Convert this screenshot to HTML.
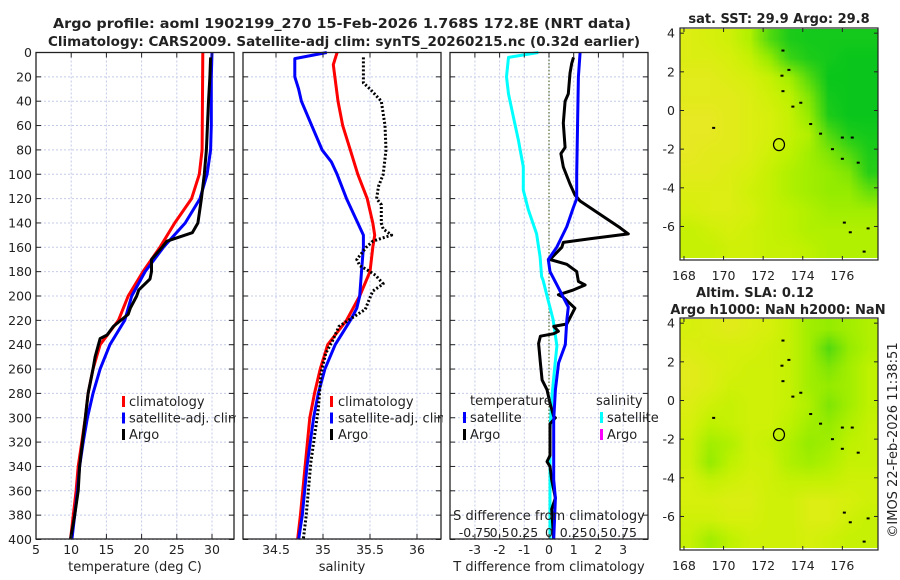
<!DOCTYPE html>
<html><head><meta charset="utf-8">
<style>
html,body{margin:0;padding:0;background:#fff;}
#wrap{position:relative;width:900px;height:580px;overflow:hidden;font-family:"DejaVu Sans","Liberation Sans",sans-serif;}
canvas{position:absolute;}
svg{position:absolute;left:0;top:0;}
text{font-family:"DejaVu Sans","Liberation Sans",sans-serif;fill:#222;}
</style></head>
<body>
<div id="wrap">
<canvas id="sstmap" width="198" height="229" style="left:680px;top:29px"></canvas>
<canvas id="slamap" width="198" height="229" style="left:680px;top:319px"></canvas>
<svg id="fig" width="900" height="580" xmlns="http://www.w3.org/2000/svg"></svg>
</div>
<script>
// ---------- data ----------
const depthTicks = [0,20,40,60,80,100,120,140,160,180,200,220,240,260,280,300,320,340,360,380,400];
const tTicks = [5,10,15,20,25,30];
const sTicks = [34.5,35,35.5,36];
const dTTicks = [-3,-2,-1,0,1,2,3];
const dSTicks = [-0.75,-0.5,-0.25,0,0.25,0.5,0.75];
const dSTickLabels = ["-0.75","0.5","0.25","0","0.25","0.5","0.75"];
const lonTicks = [168,170,172,174,176];
const latTicks = [4,2,0,-2,-4,-6];

const climTdepth = [0,80,100,120,140,160,180,200,220,240,260,280,300,320,340,360,380,400];
const climT =      [28.7,28.6,28.2,27.1,24.7,22.6,20.2,18.1,16.7,14.1,13.1,12.4,12.0,11.5,11.0,10.7,10.3,9.9];
const satTdepth = [0,20,60,80,100,120,140,160,170,180,200,220,240,260,280,300,320,340,360,380,400];
const satT =      [30.0,29.9,29.9,29.8,29.3,28.3,26.2,23.1,21.8,20.5,18.6,17.6,15.5,14.1,13.1,12.3,11.7,11.2,10.9,10.5,10.1];
const argoTdepth = [4,20,40,80,100,120,140,148,155,160,170,180,186,195,200,210,215,225,232,235,250,260,280,300,340,360,380,400];
const argoT =      [29.8,29.7,29.5,29.2,28.9,28.5,28.0,27.2,23.6,22.9,21.4,21.4,21.2,19.6,19.3,18.4,18.1,16.0,15.1,14.1,13.4,13.1,12.4,12.0,11.2,11.0,10.5,9.9];

const climSdepth = [0,10,40,60,80,100,120,140,150,160,180,200,210,220,230,240,260,280,300,340,380,400];
const climS =      [35.15,35.11,35.16,35.21,35.29,35.37,35.47,35.53,35.55,35.53,35.50,35.39,35.32,35.25,35.15,35.05,34.97,34.91,34.86,34.81,34.76,34.73];
const satSdepth = [0,5,20,30,40,60,80,90,100,120,140,150,160,180,200,210,220,240,260,280,300,340,380,400];
const satS =      [35.04,34.70,34.70,34.74,34.77,34.88,34.99,35.09,35.15,35.25,35.37,35.43,35.43,35.41,35.39,35.36,35.29,35.13,35.02,34.95,34.90,34.83,34.78,34.74];
const argoSdepth = [4,25,30,40,60,80,100,110,120,125,140,145,150,155,160,165,170,175,180,183,190,196,203,211,218,225,237,247,263,293,337,381,400];
const argoS =      [35.43,35.43,35.50,35.62,35.66,35.67,35.64,35.59,35.57,35.62,35.62,35.64,35.73,35.53,35.46,35.41,35.36,35.39,35.50,35.56,35.64,35.53,35.49,35.45,35.31,35.17,35.10,35.03,34.98,34.95,34.87,34.82,34.79];

const dTsatDepth = [0,20,100,120,127,143,160,170,180,196,209,220,240,255,277,302,351,366,400];
const dTsat =      [1.26,1.19,1.12,1.12,0.99,0.72,0.31,-0.03,0.04,0.45,0.78,0.72,0.66,0.39,0.26,0.19,0.19,0.26,0.19];
const dTargoDepth = [4,9,17,34,40,58,78,83,94,108,117,122,133,144,149,153,156,160,170,174,180,188,191,195,199,201,210,223,225,229,231,233,239,255,269,277,288,299,300,305,331,336,340,351,366,375,400];
const dTargo =      [0.99,0.92,0.85,0.78,0.65,0.58,0.65,0.48,0.58,0.85,1.05,1.26,2.07,2.88,3.21,1.66,0.58,0.52,0.04,0.72,1.12,1.19,1.46,0.99,0.38,0.58,1.05,0.72,0.19,0.38,0.19,-0.35,-0.42,-0.35,-0.28,-0.08,0.04,0.19,0.26,0.04,0.04,-0.08,0.04,0.11,0.26,0.11,0.19];
const dSsatDepth = [0,4,20,34,53,72,94,113,129,149,168,184,187,203,219,241,257,282,310,400];
const dSsat =      [-0.108,-0.41,-0.43,-0.41,-0.36,-0.31,-0.26,-0.26,-0.21,-0.125,-0.09,-0.075,-0.06,-0.01,0.04,0.08,0.06,0.03,0.01,0.01];

const sstGrid = [
 [0.85,0.8,0.75,0.6,0.35,0.15,0.1,0.1,0.1,0.1],
 [0.85,0.85,0.8,0.7,0.5,0.3,0.15,0.1,0.05,0.05],
 [0.9,0.9,0.85,0.8,0.7,0.55,0.35,0.05,0.05,0.05],
 [0.9,0.9,0.9,0.85,0.75,0.65,0.45,0.1,0.05,0.05],
 [0.95,0.95,0.9,0.85,0.8,0.7,0.5,0.15,0.05,0.05],
 [0.95,0.95,0.9,0.85,0.8,0.7,0.6,0.35,0.15,0.1],
 [0.95,0.9,0.9,0.85,0.75,0.65,0.55,0.45,0.35,0.15],
 [0.9,0.9,0.85,0.8,0.7,0.6,0.55,0.5,0.45,0.2],
 [0.85,0.85,0.85,0.75,0.7,0.6,0.55,0.5,0.5,0.4],
 [0.8,0.85,0.85,0.8,0.7,0.65,0.6,0.55,0.55,0.55],
 [0.7,0.75,0.8,0.75,0.7,0.65,0.6,0.6,0.6,0.6],
 [0.7,0.7,0.75,0.75,0.7,0.7,0.65,0.6,0.6,0.6]];
const slaGrid = [
 [0.8,0.85,0.9,0.85,0.8,0.7,0.55,0.5,0.55,0.6],
 [0.85,0.8,0.8,0.8,0.75,0.7,0.55,0.35,0.5,0.6],
 [0.9,0.85,0.8,0.75,0.75,0.7,0.55,0.45,0.55,0.65],
 [0.9,0.85,0.75,0.75,0.75,0.7,0.55,0.5,0.55,0.65],
 [0.85,0.75,0.7,0.75,0.75,0.7,0.6,0.45,0.55,0.65],
 [0.8,0.65,0.7,0.75,0.75,0.65,0.55,0.5,0.6,0.7],
 [0.75,0.55,0.6,0.75,0.7,0.6,0.5,0.55,0.65,0.7],
 [0.75,0.5,0.65,0.75,0.75,0.6,0.55,0.6,0.7,0.7],
 [0.8,0.7,0.75,0.8,0.75,0.7,0.7,0.7,0.75,0.75],
 [0.8,0.8,0.85,0.85,0.75,0.75,0.85,0.85,0.8,0.75],
 [0.75,0.75,0.8,0.8,0.75,0.75,0.85,0.85,0.75,0.7],
 [0.7,0.55,0.65,0.75,0.75,0.75,0.8,0.75,0.7,0.7]];
const profileLon = [172.8];
const profileLat = [-1.768];

// ---------- scales ----------
const Y0 = 52.5, YK = 1.2175;
const yD = d => Y0 + d*YK;
const xT = t => 36 + (t-5)*7.04;
const xS = s => 276 + (s-34.5)*94;
const xDT = d => 549 + d*24.7;
const xDS = s => 549 + s*98.8;
const xLon = lon => 680 + (lon-167.8)*19.8;
const yLat1 = lat => 29.3 + (4.2-lat)*19.33;
const yLat2 = lat => 319.3 + (4.2-lat)*19.33;

const NS = "http://www.w3.org/2000/svg";
const svg = document.getElementById('fig');
function mk(tag, name, inter, attrs, parent){
  const el = document.createElementNS(NS, tag);
  
  
  for (const k in attrs) el.setAttribute(k, attrs[k]);
  (parent||svg).appendChild(el);
  return el;
}
function txt(name, x, y, s, size, anchor, extra){
  const a = Object.assign({x:x, y:y, 'font-size':size, 'text-anchor':anchor||'middle'}, extra||{});
  const t = mk('text', name, 'false', a);
  t.textContent = s;
  return t;
}
function line(name, xs, ys, color, dash, w){
  let d = '';
  for (let i=0;i<xs.length;i++) d += (i?'L':'M') + xs[i].toFixed(1) + ' ' + ys[i].toFixed(1);
  const a = {d:d, fill:'none', stroke:color, 'stroke-width':w||3, 'stroke-linejoin':'round'};
  if (dash) a['stroke-dasharray'] = dash;
  return mk('path', name, 'false', a);
}

// ---------- titles ----------
txt('main-title-line1', 342, 28, 'Argo profile: aoml 1902199_270 15-Feb-2026 1.768S 172.8E (NRT data)', 13, 'middle', {'font-weight':'bold', textLength:578, lengthAdjust:'spacingAndGlyphs'});
txt('main-title-line2', 344, 46, 'Climatology: CARS2009. Satellite-adj clim: synTS_20260215.nc (0.32d earlier)', 13, 'middle', {'font-weight':'bold', textLength:592, lengthAdjust:'spacingAndGlyphs'});

// ---------- panels ----------
const panels = [
  {name:'temperature', x0:36, x1:234, gx:tTicks.map(xT)},
  {name:'salinity', x0:243, x1:441, gx:sTicks.map(xS)},
  {name:'difference', x0:450, x1:648, gx:dTTicks.map(xDT)}
];
const yTop = 52.5, yBot = 539;
panels.forEach((p, pi) => {
  mk('rect', p.name+'-panel-background', 'false', {x:p.x0, y:yTop, width:p.x1-p.x0, height:yBot-yTop, fill:'#fff'});
  depthTicks.forEach(d => {
    mk('line', p.name+'-hgrid', 'false', {x1:p.x0, x2:p.x1, y1:yD(d), y2:yD(d), stroke:'#c4cbe8', 'stroke-width':1, 'stroke-dasharray':'2,2'});
  });
  p.gx.forEach(x => {
    mk('line', p.name+'-vgrid', 'false', {x1:x, x2:x, y1:yTop, y2:yBot, stroke:'#c4cbe8', 'stroke-width':1, 'stroke-dasharray':'2,2'});
  });
});

// temperature panel
line('climatology-temperature-line', climT.map(xT), climTdepth.map(yD), '#ff0000');
line('satellite-temperature-line', satT.map(xT), satTdepth.map(yD), '#0000ff');
line('argo-temperature-line', argoT.map(xT), argoTdepth.map(yD), '#000000');
[['#ff0000','climatology'],['#0000ff','satellite-adj. clim'],['#000000','Argo']].forEach((e,i)=>{
  mk('rect','temp-legend-swatch','false',{x:122, y:396+i*16.5, width:3, height:11, fill:e[0]});
  txt('temp-legend-entry', 129, 406+i*16.5, e[1], 13, 'start');
});

// salinity panel
mk('rect', 'salinity-panel-cover', 'false', {x:236, y:yTop, width:205, height:yBot-yTop, fill:'#fff'});
depthTicks.forEach(d => mk('line','salinity-hgrid','false',{x1:243,x2:441,y1:yD(d),y2:yD(d),stroke:'#c4cbe8','stroke-width':1,'stroke-dasharray':'2,2'}));
sTicks.forEach(s => mk('line','salinity-vgrid','false',{x1:xS(s),x2:xS(s),y1:yTop,y2:yBot,stroke:'#c4cbe8','stroke-width':1,'stroke-dasharray':'2,2'}));
line('climatology-salinity-line', climS.map(xS), climSdepth.map(yD), '#ff0000');
line('satellite-salinity-line', satS.map(xS), satSdepth.map(yD), '#0000ff');
line('argo-salinity-line', argoS.map(xS), argoSdepth.map(yD), '#000000', '2,2');
[['#ff0000','climatology'],['#0000ff','satellite-adj. clim'],['#000000','Argo']].forEach((e,i)=>{
  mk('rect','sal-legend-swatch','false',{x:330, y:396+i*16.5, width:3, height:11, fill:e[0]});
  txt('sal-legend-entry', 338, 406+i*16.5, e[1], 13, 'start');
});

// difference panel
mk('rect', 'difference-panel-cover', 'false', {x:443, y:yTop, width:205, height:yBot-yTop, fill:'#fff'});
depthTicks.forEach(d => mk('line','difference-hgrid','false',{x1:450,x2:648,y1:yD(d),y2:yD(d),stroke:'#c4cbe8','stroke-width':1,'stroke-dasharray':'2,2'}));
dTTicks.forEach(t => mk('line','difference-vgrid','false',{x1:xDT(t),x2:xDT(t),y1:yTop,y2:yBot,stroke:'#c4cbe8','stroke-width':1,'stroke-dasharray':'2,2'}));
mk('line','zero-difference-line','false',{x1:xDT(0),x2:xDT(0),y1:yTop,y2:yBot,stroke:'#556b2f','stroke-width':1.2,'stroke-dasharray':'1.5,2'});
line('satellite-salinity-difference-line', dSsat.map(xDS), dSsatDepth.map(yD), '#00ffff');
line('argo-temperature-difference-line', dTargo.map(xDT), dTargoDepth.map(yD), '#000000');
line('satellite-temperature-difference-line', dTsat.map(xDT), dTsatDepth.map(yD), '#0000ff');
txt('temp-diff-legend-title', 470, 405, 'temperature', 13, 'start');
txt('sal-diff-legend-title', 596, 405, 'salinity', 13, 'start');
[['#0000ff','satellite',463],['#000000','Argo',463],['#00ffff','satellite',600],['#ff00ff','Argo',600]].forEach((e,i)=>{
  const r = i%2;
  mk('rect','diff-legend-swatch','false',{x:e[2], y:412+r*17, width:3, height:11, fill:e[0]});
  txt('diff-legend-entry', e[2]+7, 422+r*17, e[1], 13, 'start');
});
txt('s-diff-axis-title', 549, 520, 'S difference from climatology', 13, 'middle');
dSTicks.forEach((s,i)=> txt('s-diff-tick-label', xDS(s), 537, dSTickLabels[i], 12.5, 'middle'));

// axes frames & ticks
panels.forEach(p => {
  mk('rect', p.name+'-axes-frame', 'false', {x:p.x0, y:yTop, width:p.x1-p.x0, height:yBot-yTop, fill:'none', stroke:'#222', 'stroke-width':1.3});
  depthTicks.forEach(d => {
    mk('line', p.name+'-ytick', 'false', {x1:p.x0, x2:p.x0+5, y1:yD(d), y2:yD(d), stroke:'#222', 'stroke-width':1});
    mk('line', p.name+'-ytick-right', 'false', {x1:p.x1-5, x2:p.x1, y1:yD(d), y2:yD(d), stroke:'#222', 'stroke-width':1});
  });
  p.gx.forEach(x => {
    mk('line', p.name+'-xtick', 'false', {x1:x, x2:x, y1:yBot-5, y2:yBot, stroke:'#222', 'stroke-width':1});
    mk('line', p.name+'-xtick-top', 'false', {x1:x, x2:x, y1:yTop, y2:yTop+5, stroke:'#222', 'stroke-width':1});
  });
});
depthTicks.forEach(d => txt('depth-tick-label', 32, yD(d)+4.5, String(d), 12.5, 'end'));
tTicks.forEach(t => txt('temperature-tick-label', xT(t), 554, String(t), 12.5));
sTicks.forEach(s => txt('salinity-tick-label', xS(s), 554, String(s), 12.5));
dTTicks.forEach(t => txt('t-diff-tick-label', xDT(t), 554, String(t), 12.5));
txt('temperature-axis-title', 135, 571, 'temperature (deg C)', 13);
txt('salinity-axis-title', 342, 571, 'salinity', 13);
txt('t-diff-axis-title', 549, 571, 'T difference from climatology', 13);

// ---------- maps ----------
const stops = [[0,[0,195,30]],[0.3,[60,212,20]],[0.5,[150,236,0]],[0.65,[190,242,0]],[0.8,[215,240,12]],[1,[236,230,42]]];
function cmap(v){
  for (let i=1;i<stops.length;i++){
    if (v<=stops[i][0]){
      const a=stops[i-1], b=stops[i], f=(v-a[0])/(b[0]-a[0]);
      return a[1].map((c,k)=>Math.round(c+(b[1][k]-c)*f));
    }
  }
  return stops[stops.length-1][1];
}
function drawMap(id, grid){
  const rows = grid.length, cols = grid[0].length;
  const small = document.createElement('canvas');
  small.width = cols; small.height = rows;
  const sc = small.getContext('2d');
  const img = sc.createImageData(cols, rows);
  grid.forEach((row,r)=>row.forEach((v,c)=>{
    const col = cmap(v), k=(r*cols+c)*4;
    img.data[k]=col[0]; img.data[k+1]=col[1]; img.data[k+2]=col[2]; img.data[k+3]=255;
  }));
  sc.putImageData(img,0,0);
  const cv = document.getElementById(id);
  const ctx = cv.getContext('2d');
  ctx.imageSmoothingEnabled = true;
  ctx.drawImage(small, 0, 0, cols, rows, 0, 0, cv.width, cv.height);
}
drawMap('sstmap', sstGrid);
drawMap('slamap', slaGrid);

const islands = [[173.0,3.1],[172.95,1.8],[173.0,1.0],[173.5,0.2],[173.9,0.4],[174.4,-0.7],[174.9,-1.2],[175.5,-2.0],[176.0,-1.4],[176.5,-1.4],[176.0,-2.5],[176.8,-2.7],[169.5,-0.9],[176.1,-5.8],[176.4,-6.3],[177.3,-6.1],[177.1,-7.3],[173.3,2.1]];
[[yLat1,28,'sst'],[yLat2,318,'sla']].forEach(m => {
  const yL = m[0], top = m[1], nm = m[2];
  islands.forEach(p => mk('rect', nm+'-island-mark', 'false', {x:xLon(p[0])-1.5, y:yL(p[1])-1, width:3, height:2, fill:'#000'}));
  mk('ellipse', nm+'-profile-location', 'false', {cx:xLon(profileLon[0]), cy:yL(profileLat[0]), rx:5.5, ry:6, fill:'none', stroke:'#000', 'stroke-width':1.2});
  mk('rect', nm+'-map-frame', 'false', {x:680, y:top, width:198, height:232, fill:'none', stroke:'#222', 'stroke-width':1.2});
  latTicks.forEach(l => {
    mk('line', nm+'-lat-tick', 'false', {x1:680, x2:684, y1:yL(l), y2:yL(l), stroke:'#222'});
    mk('line', nm+'-lat-tick-right', 'false', {x1:874, x2:878, y1:yL(l), y2:yL(l), stroke:'#222'});
    txt(nm+'-lat-label', 675, yL(l)+4.5, String(l), 12.5, 'end');
  });
  lonTicks.forEach(l => {
    mk('line', nm+'-lon-tick', 'false', {x1:xLon(l), x2:xLon(l), y1:top, y2:top+4, stroke:'#222'});
    mk('line', nm+'-lon-tick-bottom', 'false', {x1:xLon(l), x2:xLon(l), y1:top+228, y2:top+232, stroke:'#222'});
    txt(nm+'-lon-label', xLon(l), top+252, String(l), 12.5);
  });
});
txt('sst-map-title', 779, 23, 'sat. SST: 29.9 Argo: 29.8', 13, 'middle', {'font-weight':'bold'});
txt('sla-map-title-line1', 755, 297, 'Altim. SLA: 0.12', 13, 'middle', {'font-weight':'bold'});
txt('sla-map-title-line2', 778, 314, 'Argo h1000: NaN h2000: NaN', 13, 'middle', {'font-weight':'bold'});
txt('imos-timestamp', 0, 0, '©IMOS 22-Feb-2026 11:38:51', 13, 'middle', {transform:'translate(897,440) rotate(-90)'});
</script>
</body></html>
